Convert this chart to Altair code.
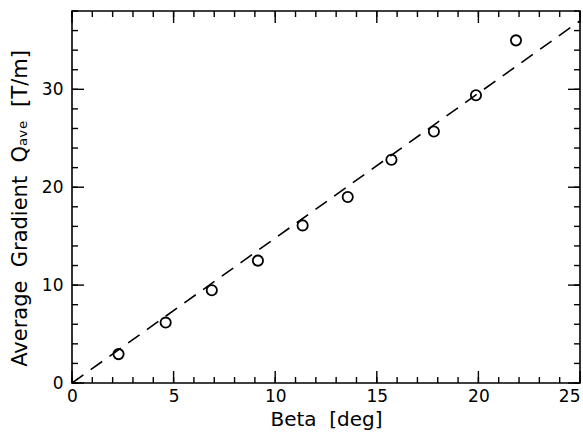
import altair as alt
import pandas as pd

# Measured points (Beta in deg, average gradient in T/m)
beta = [2.29, 4.61, 6.88, 9.15, 11.35, 13.57, 15.72, 17.81, 19.88, 21.85]
gradient = [2.95, 6.17, 9.48, 12.5, 16.1, 19.0, 22.8, 25.7, 29.4, 35.0]

# Dashed linear fit endpoints
fit_beta = [0, 25]
fit_grad = [0, 37.0]

# Tick values
x_major = [0, 5, 10, 15, 20, 25]
x_minor = list(range(0, 26, 1))
y_major = [0, 10, 20, 30]
y_minor = list(range(0, 39, 2))

XD = [0, 25]
YD = [0, 38]
W, H = 508, 372
FONT = "DejaVu Sans"
NB = "\u00a0"

pts = pd.DataFrame({"beta": beta, "g": gradient})
fit = pd.DataFrame({"beta": fit_beta, "g": fit_grad})

XS = alt.Scale(domain=XD, nice=False, zero=False)
YS = alt.Scale(domain=YD, nice=False, zero=False)

main_x = alt.Axis(
    orient="bottom", values=x_major, ticks=False, tickSize=0, domain=False, grid=False,
    labelFont=FONT, labelFontSize=17, labelColor="black", labelPadding=5,
    labelFlush=False, labelOverlap=False,
    labelAlign={"condition": {"test": "datum.value == 25", "value": "right"}, "value": "center"},
    titleFont=FONT, titleFontSize=20, titleFontWeight="normal", titleColor="black", titlePadding=5,
)
main_y = alt.Axis(
    orient="left", values=y_major, ticks=False, tickSize=0, domain=False, grid=False,
    labelFont=FONT, labelFontSize=17, labelColor="black", labelPadding=9,
    labelFlush=False, labelOverlap=False,
    titleFont=FONT, titleFontSize=21, titleFontWeight="normal", titleColor="black", titlePadding=11,
    titleY=197,
)

XTITLE = "Beta" + NB + NB + "[deg]"
YTITLE = "Average" + NB + NB + "Gradient" + NB + NB + "Qₐᵥₑ" + NB + NB + "[T/m]"

line = alt.Chart(fit).mark_line(color="black", strokeWidth=1.6, strokeDash=[14, 9]).encode(
    x=alt.X("beta:Q", scale=XS, axis=main_x, title=XTITLE),
    y=alt.Y("g:Q", scale=YS, axis=main_y, title=YTITLE),
)

points = alt.Chart(pts).mark_point(
    shape="circle", filled=False, color="black", size=105, strokeWidth=1.8, opacity=1
).encode(
    x=alt.X("beta:Q", scale=XS, axis=main_x, title=XTITLE),
    y=alt.Y("g:Q", scale=YS, axis=main_y, title=YTITLE),
)


def xticks(values, length, side):
    df = pd.DataFrame({"beta": values})
    y0 = H if side == "bottom" else 0
    y1 = H - length if side == "bottom" else length
    return alt.Chart(df).mark_rule(color="black", strokeWidth=1.4).encode(
        x=alt.X("beta:Q", scale=XS, axis=main_x, title=XTITLE),
        y=alt.value(y0), y2=alt.value(y1),
    )


def yticks(values, length, side):
    df = pd.DataFrame({"g": values})
    x0 = 0 if side == "left" else W
    x1 = length if side == "left" else W - length
    return alt.Chart(df).mark_rule(color="black", strokeWidth=1.4).encode(
        y=alt.Y("g:Q", scale=YS, axis=main_y, title=YTITLE),
        x=alt.value(x0), x2=alt.value(x1),
    )


tick_layers = [
    xticks(x_minor, 6, "bottom"), xticks(x_major, 12, "bottom"),
    xticks(x_minor, 6, "top"), xticks(x_major, 12, "top"),
    yticks(y_minor, 6, "left"), yticks(y_major, 12, "left"),
    yticks(y_minor, 6, "right"), yticks(y_major, 12, "right"),
]

chart = (
    alt.layer(line, points, *tick_layers)
    .properties(
        width=W, height=H,
        padding={"left": 72, "top": 11, "right": 3, "bottom": 51},
        autosize=alt.AutoSizeParams(type="none"),
        background="white",
    )
    .configure_view(stroke="black", strokeWidth=1.6)
)

chart.save("out.html", embed_options={"renderer": "svg", "actions": False})
